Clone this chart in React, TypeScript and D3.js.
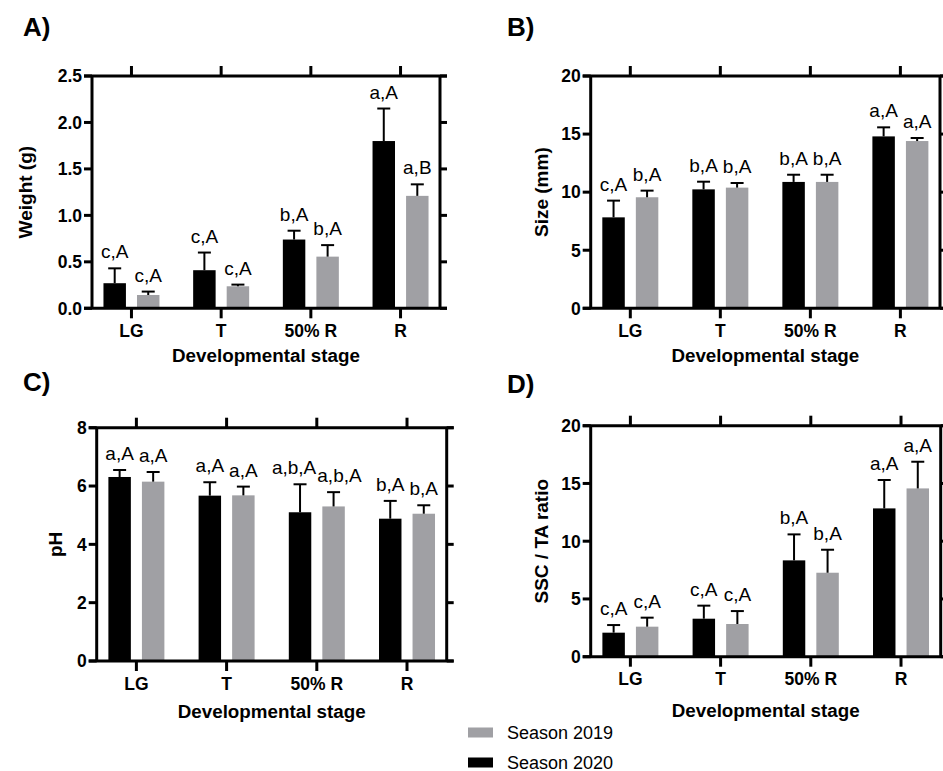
import React from "react";
import * as d3 from "d3";

const categories = ["LG", "T", "50% R", "R"];
const seriesNames = ["Season 2020", "Season 2019"];

const weight2020 = [0.27, 0.41, 0.74, 1.8];
const weight2020Err = [0.16, 0.19, 0.095, 0.35];
const weight2019 = [0.143, 0.237, 0.556, 1.21];
const weight2019Err = [0.037, 0.018, 0.124, 0.124];
const weightLetters2020 = ["c,A", "c,A", "b,A", "a,A"];
const weightLetters2019 = ["c,A", "c,A", "b,A", "a,B"];
const weightTicks = [0, 0.5, 1, 1.5, 2, 2.5];

const size2020 = [7.83, 10.24, 10.88, 14.8];
const size2020Err = [1.44, 0.66, 0.62, 0.78];
const size2019 = [9.56, 10.39, 10.88, 14.4];
const size2019Err = [0.57, 0.4, 0.62, 0.26];
const sizeLetters2020 = ["c,A", "b,A", "b,A", "a,A"];
const sizeLetters2019 = ["b,A", "b,A", "b,A", "a,A"];
const sizeTicks = [0, 5, 10, 15, 20];

const ph2020 = [6.31, 5.67, 5.1, 4.88];
const ph2020Err = [0.24, 0.46, 0.96, 0.61];
const ph2019 = [6.15, 5.68, 5.3, 5.05];
const ph2019Err = [0.33, 0.3, 0.49, 0.29];
const phLetters2020 = ["a,A", "a,A", "a,b,A", "b,A"];
const phLetters2019 = ["a,A", "a,A", "a,b,A", "b,A"];
const phTicks = [0, 2, 4, 6, 8];

const ratio2020 = [2.08, 3.29, 8.34, 12.84];
const ratio2020Err = [0.66, 1.13, 2.25, 2.46];
const ratio2019 = [2.6, 2.83, 7.27, 14.57];
const ratio2019Err = [0.78, 1.12, 1.99, 2.31];
const ratioLetters2020 = ["c,A", "c,A", "b,A", "a,A"];
const ratioLetters2019 = ["c,A", "c,A", "b,A", "a,A"];
const ratioTicks = [0, 5, 10, 15, 20];

const COLORS: Record<string, string> = { "Season 2020": "#000000", "Season 2019": "#a0a0a4" };
const FONT = "'Liberation Sans', Arial, Helvetica, sans-serif";

type PanelProps = {
  label: string;
  left: number; right: number; top: number; bottom: number;
  labelX: number; labelY: number;
  yTitle: string; yTitleX: number;
  xTitleY: number;
  ticks: number[]; fmt: (v: number) => string;
  v2020: number[]; e2020: number[]; v2019: number[]; e2019: number[];
  l2020: string[]; l2019: string[];
};

function Panel(p: PanelProps) {
  const x = d3.scalePoint<string>().domain(categories).range([p.left, p.right]).padding(0.44);
  const sub = d3.scaleBand<string>().domain(seriesNames).range([-28, 28]).paddingInner(0.33).paddingOuter(0);
  const y = d3.scaleLinear().domain([p.ticks[0], p.ticks[p.ticks.length - 1]]).range([p.bottom, p.top]);
  const bw = sub.bandwidth();
  const annFont = 19;
  const series = [
    { name: "Season 2020", v: p.v2020, e: p.e2020, l: p.l2020 },
    { name: "Season 2019", v: p.v2019, e: p.e2019, l: p.l2019 },
  ];
  const charW = (s: string) => {
    let w = 0;
    for (const c of s) w += c === "," ? 0.278 : c === "A" || c === "B" ? 0.667 : 0.556;
    return w * annFont;
  };
  const sw = 3;
  return (
    <g fontFamily={FONT}>
      <text x={p.labelX} y={p.labelY} fontSize={26} fontWeight="bold">{p.label}</text>
      {series.map((s) =>
        categories.map((c, i) => {
          const cx = (x(c) as number) + (sub(s.name) as number) + bw / 2;
          const yv = y(s.v[i]);
          const ye = y(s.v[i] + s.e[i]);
          return (
            <g key={s.name + c}>
              <rect x={cx - bw / 2} y={yv} width={bw} height={p.bottom - yv} fill={COLORS[s.name]} />
              <line x1={cx} x2={cx} y1={yv} y2={ye} stroke="#000" strokeWidth={2} />
              <line x1={cx - 6.5} x2={cx + 6.5} y1={ye} y2={ye} stroke="#000" strokeWidth={2} />
            </g>
          );
        })
      )}
      {categories.map((c, i) => {
        const cxs = series.map((s) => (x(c) as number) + (sub(s.name) as number) + bw / 2);
        const ws = series.map((s) => charW(s.l[i]));
        const need = (ws[0] + ws[1]) / 2 + 1;
        const gap = cxs[1] - cxs[0];
        const shift = gap < need ? (need - gap) / 2 : 0;
        return series.map((s, k) => (
          <text key={"t" + s.name + c} x={cxs[k] + (k === 0 ? -shift : shift)} y={y(s.v[i] + s.e[i]) - 10}
            fontSize={annFont} textAnchor="middle">{s.l[i]}</text>
        ));
      })}
      <line x1={p.left} x2={p.left} y1={p.top} y2={p.bottom} stroke="#000" strokeWidth={sw} />
      <line x1={p.right} x2={p.right} y1={p.top} y2={p.bottom} stroke="#000" strokeWidth={sw} />
      <line x1={p.left - 8} x2={p.right + 7} y1={p.bottom} y2={p.bottom} stroke="#000" strokeWidth={sw} />
      <line x1={p.left - 8} x2={p.right + 7} y1={p.top} y2={p.top} stroke="#000" strokeWidth={sw} />
      {p.ticks.map((t) => (
        <g key={"y" + t}>
          <line x1={p.left - 8} x2={p.left} y1={y(t)} y2={y(t)} stroke="#000" strokeWidth={sw} />
          <line x1={p.right} x2={p.right + 7} y1={y(t)} y2={y(t)} stroke="#000" strokeWidth={sw} />
          <text x={p.left - 10} y={y(t)} dy="0.36em" textAnchor="end" fontSize={17.5} fontWeight="bold">{p.fmt(t)}</text>
        </g>
      ))}
      {categories.map((c) => (
        <g key={"x" + c}>
          <line x1={x(c)} x2={x(c)} y1={p.bottom} y2={p.bottom + 10} stroke="#000" strokeWidth={sw} />
          <line x1={x(c)} x2={x(c)} y1={p.top} y2={p.top - 10} stroke="#000" strokeWidth={sw} />
          <text x={x(c)} y={p.bottom + 28.5} textAnchor="middle" fontSize={17.5} fontWeight="bold">{c}</text>
        </g>
      ))}
      <text x={(p.left + p.right) / 2} y={p.xTitleY} textAnchor="middle" fontSize={18.8} fontWeight="bold">Developmental stage</text>
      <text transform={`translate(${p.yTitleX},${(p.top + p.bottom) / 2}) rotate(-90)`} textAnchor="middle" dy="0.35em"
        fontSize={19} fontWeight="bold">{p.yTitle}</text>
    </g>
  );
}

export default function App() {
  const f1 = d3.format(".1f");
  const f0 = d3.format("d");
  return (
    <svg width={943} height={771} style={{ position: "absolute", left: 0, top: 0, background: "#fff" }}>
      <Panel label="A)" left={92} right={440} top={76} bottom={308.3} labelX={23} labelY={36}
        yTitle="Weight (g)" yTitleX={25} xTitleY={362} ticks={weightTicks} fmt={f1}
        v2020={weight2020} e2020={weight2020Err} v2019={weight2019} e2019={weight2019Err}
        l2020={weightLetters2020} l2019={weightLetters2019} />
      <Panel label="B)" left={590.7} right={940} top={76} bottom={308.3} labelX={507} labelY={36}
        yTitle="Size (mm)" yTitleX={541.7} xTitleY={362} ticks={sizeTicks} fmt={f0}
        v2020={size2020} e2020={size2020Err} v2019={size2019} e2019={size2019Err}
        l2020={sizeLetters2020} l2019={sizeLetters2019} />
      <Panel label="C)" left={96.7} right={446.7} top={427.7} bottom={661} labelX={23} labelY={390.7}
        yTitle="pH" yTitleX={55} xTitleY={718} ticks={phTicks} fmt={f0}
        v2020={ph2020} e2020={ph2020Err} v2019={ph2019} e2019={ph2019Err}
        l2020={phLetters2020} l2019={phLetters2019} />
      <Panel label="D)" left={590.7} right={940.7} top={425.7} bottom={656.7} labelX={507} labelY={393}
        yTitle="SSC / TA ratio" yTitleX={541.7} xTitleY={716.7} ticks={ratioTicks} fmt={f0}
        v2020={ratio2020} e2020={ratio2020Err} v2019={ratio2019} e2019={ratio2019Err}
        l2020={ratioLetters2020} l2019={ratioLetters2019} />
      <g fontFamily={FONT}>
        {["Season 2019", "Season 2020"].map((s, i) => (
          <g key={s}>
            <rect x={468} y={727.5 + i * 30} width={25} height={10} fill={COLORS[s]} />
            <text x={507} y={738.5 + i * 30} fontSize={18}>{s}</text>
          </g>
        ))}
      </g>
    </svg>
  );
}
